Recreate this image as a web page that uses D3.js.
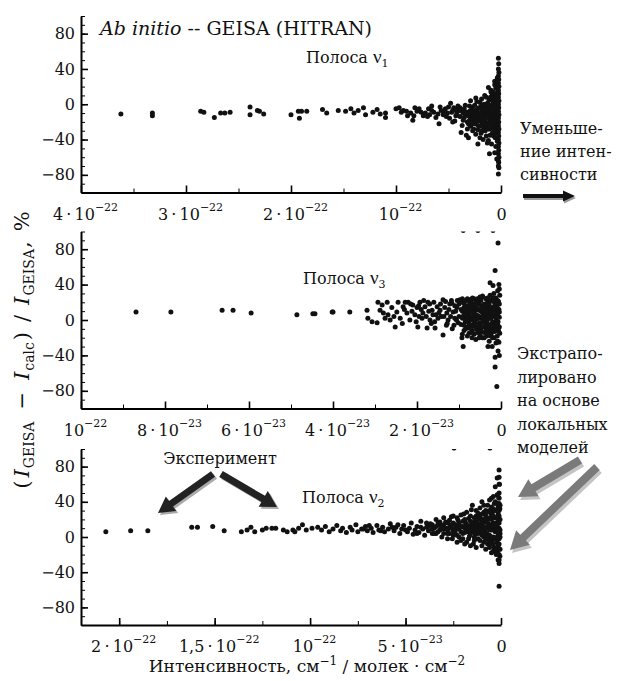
<!DOCTYPE html>
<html>
<head>
<meta charset="utf-8">
<script src="https://cdn.jsdelivr.net/npm/d3@7"></script>
<style>
  body { margin: 0; background: #fff; }
  text { font-family: "DejaVu Serif", serif; fill: #111; }
</style>
</head>
<body>
<script>
// intensity in units of 1e-23 cm^-1/(molec cm^-2), deviation in %
const band1 = [
  [36.2,-11],[33.2,-10],[33.2,-13],[28.6,-8],[28.3,-9],[27.3,-15],[26.7,-10],[26.3,-10],[25.8,-9],
  [23.9,-3],[23.9,-12],[23.2,-7],[23.0,-8],[22.6,-11],[20.0,-12],[19.3,-8],[19.2,-16],[19.0,-8],[18.5,-8],
  [17.0,-6],[16.6,-10],[15.5,-7],[14.8,-8],[14.3,-5],[14.0,-10],[13.6,-7],[13.1,-4],[12.9,-12],[12.2,-9],
  [11.8,-6],[11.5,-11],[11.0,-10],[11.0,-15],[10.0,-5],[9.7,-4],[9.5,-9],[9.3,-7],[8.9,-13],[8.4,-18],
  [8.3,-13],[7.8,-5],[7.6,-9],[7.4,-13],[6.9,-5],[6.4,-9],[6.2,-15],[5.9,-22],[5.7,-7],[5.3,-5],[5.1,-10],
  [4.8,1],[4.6,-7],[4.3,-13],[4.0,-7],[3.8,-32],[3.6,-18],[3.3,-35],[3.1,-38],[2.9,4],[2.6,-18],[2.4,7],
  [2.2,-45],[1.9,-3],[1.7,-30],[1.6,-10],[1.4,8],[1.2,-41],[1.1,-56],[0.95,16],[0.95,-15],[0.67,4],[0.48,-22],
  [3.5,-5],[3.4,-12],[3.2,-20],[3.0,-8],[2.9,-25],[2.8,-14],[2.7,-3],[2.6,-28],[2.5,-10],[2.4,-19],[2.3,-6],
  [2.2,-24],[2.1,-12],[2.0,2],[2.0,-16],[1.9,-33],[1.8,-8],[1.8,-21],[1.7,-14],[1.6,0],[1.6,-26],[1.5,-5],
  [1.5,-18],[1.4,-11],[1.4,-36],[1.3,-2],[1.3,-22],[1.2,-8],[1.2,-15],[1.1,5],[1.1,-28],[1.0,-4],[1.0,-12],
  [1.0,-19],[0.9,-1],[0.9,-9],[0.9,-24],[0.85,10],[0.8,-6],[0.8,-14],[0.8,-32],[0.75,-20],[0.7,2],[0.7,-10],
  [0.7,-17],[0.65,-27],[0.6,-4],[0.6,-13],[0.6,22],[0.55,-8],[0.55,-38],[0.5,0],[0.5,-16],[0.5,-48],
  [0.45,-11],[0.45,12],[0.4,-5],[0.4,-25],[0.4,-62],[0.35,-19],[0.35,30],[0.3,-2],[0.3,-9],
  [1.2,19],[0.95,14],[0.6,26],[0.5,18],
  [9.0,-8],[8.6,-10],[8.0,-8],[7.2,-10],[6.8,-12],[6.6,-7],[6.0,-11],[5.8,-3],[5.5,-8],
  [5.5,-12],[5.0,-3],[4.9,-16],[4.7,-9],[4.5,-4],[4.4,-19],[4.2,-10],[4.1,-2],[3.9,-14],[3.7,-8],[3.7,-24],
  [3.5,-15],[3.4,-1],[3.3,-9],[3.2,-28],[3.1,-13],[3.0,-2],[3.0,-18],[2.9,-10],[2.8,-22],[2.8,-6],[2.7,-16],
  [2.7,-30],[2.6,-8],[2.5,-1],[2.5,-22],[2.4,-13],[2.4,-34],[2.3,-17],[2.3,3],[2.2,-9],[2.2,-29],[2.1,-4],
  [2.1,-19],[2.0,-10],[2.0,-38],[1.95,-25],[1.9,-14],[1.85,6],[1.8,-2],[1.8,-30],[1.75,-17],[1.7,-6],
  [1.7,-40],[1.65,-22],[1.6,-12],[1.55,10],[1.5,-30],[1.5,-1],[1.45,-15],[1.4,-24],[1.35,-7],[1.3,-14],
  [1.3,-44],[1.25,2],[1.2,-28],[1.15,-11],[1.1,-20],[1.1,-3],[1.05,-35],[1.0,8],[1.0,-26],[0.95,-8],
  [0.9,-16],[0.9,-45],[0.85,-3],[0.85,-22],[0.8,4],[0.8,-10],[0.75,-27],[0.75,14],[0.7,-5],[0.7,-36],
  [0.65,-13],[0.65,6],[0.6,-20],[0.6,-55],[0.55,-2],[0.55,-28],[0.5,-9],[0.5,10],[0.45,-18],[0.45,-33],
  [0.4,-12],[0.4,4],[0.35,-6],[0.35,-42],[0.3,-15],[0.3,-26],[0.3,14],
  [8.2,-4],[7.0,-14],[6.6,-2],[5.2,-14],[4.6,-20],[4.3,-6],[3.9,-4],[3.6,-10],[3.1,-22],[2.6,-12],
  [0.25,52],[0.22,46],[0.25,40],[0.2,36],[0.25,32],[0.22,28],[0.25,24],[0.2,20],[0.25,16],[0.22,12],
  [0.25,8],[0.2,4],[0.25,0],[0.22,-4],[0.25,-8],[0.2,-12],[0.25,-16],[0.22,-20],[0.25,-24],[0.2,-28],
  [0.25,-32],[0.22,-36],[0.25,-40],[0.2,-44],[0.25,-48],[0.22,-52],[0.25,-56],[0.2,-60],[0.25,-64],
  [0.22,-66],[0.25,-70],[0.2,-72],[0.25,-79]
];

const band3 = [
  [8.69,9],[7.86,9],[6.64,11],[6.38,11],[5.95,8],[4.86,6],[4.48,7],[4.43,7],[4.02,9],[4.0,9],[3.6,9],
  [3.19,11],[3.17,2],[3.07,-2],[2.95,-3],[2.93,20],[2.88,11],[2.83,17],[2.76,2],[2.71,20],[2.69,6],[2.64,0],
  [2.52,-8],[2.48,9],[2.45,20],[2.40,2],[2.33,15],[2.24,8],[2.21,20],[2.17,0],[2.1,17],[2.05,6],[2.0,14],
  [1.98,-8],[1.93,20],[1.88,2],[1.86,8],[1.81,15],[1.76,-9],[1.74,20],[1.69,0],[1.64,11],[1.62,6],[1.57,-9],
  [1.52,15],[1.5,2],[1.45,11],[1.38,23],[1.38,-17],[1.29,8],[1.26,0],[1.17,19],[1.14,9],[1.1,2],[1.05,14],
  [1.02,-3],[0.98,23],[0.93,-20],[0.9,-30],[0.86,6],[0.81,15],[0.79,0],[0.74,23],[0.69,-20],[0.67,11],
  [0.62,3],[0.57,19],[0.55,-8],[0.5,-17],[0.45,9],[0.43,26],[0.38,0],[0.33,14],[0.31,-30],[0.26,42],
  [0.26,-11],[0.21,-30],[0.19,39],[0.14,-42],[0.14,-53],[0.1,-75],[0.14,56],[0.07,87],
  [0.9,101],[0.55,101],[0.19,101],
  [2.3,12],[2.15,18],[1.95,4],[1.9,12],[1.7,18],[1.66,-4],[1.55,6],[1.42,4],[1.34,14],[1.3,-6],[1.22,18],
  [1.2,4],[1.16,-10],[1.08,10],[1.0,18],[1.0,4],
  [2.8,8],[2.6,14],[2.55,4],[2.35,-4],[2.28,20],[2.12,10],[2.02,-2],[1.96,16],[1.84,22],[1.78,4],[1.72,10],
  [1.6,20],[1.58,-2],[1.48,8],[1.44,18],[1.36,4],[1.32,21],[1.28,-4],[1.24,12],[1.18,22],[1.12,-6],[1.1,16],
  [1.06,0],[1.04,22],
  [0.95,12],[0.95,-5],[0.92,20],[0.9,4],[0.88,-12],[0.85,16],[0.85,-2],[0.82,8],[0.8,-8],[0.78,22],
  [0.76,-15],[0.75,12],[0.72,3],[0.7,-6],[0.7,18],[0.68,-12],[0.65,7],[0.64,24],[0.62,-3],[0.6,14],
  [0.6,-22],[0.58,-10],[0.56,5],[0.55,20],[0.53,-4],[0.52,11],[0.5,-13],[0.5,26],[0.48,2],[0.47,16],
  [0.46,-8],[0.44,-20],[0.43,8],[0.42,-2],[0.4,18],[0.4,-14],[0.38,12],[0.37,-6],[0.36,24],[0.35,4],
  [0.34,-18],[0.33,-1],[0.32,20],[0.3,9],[0.3,-10],[0.29,15],[0.28,-24],[0.27,2],[0.26,28],[0.25,-5],
  [0.24,12],[0.23,-15],[0.22,6],[0.21,22],[0.2,-2],[0.2,-20],[0.19,14],[0.18,-9],[0.17,30],[0.16,4],
  [0.15,-13],[0.15,19],[0.14,-3],[0.13,10],[0.12,-26],[0.12,25],[0.11,0],[0.1,16],[0.1,-8],[0.09,-18],
  [0.08,7],[0.08,33],[0.07,-35],[0.07,-2],[0.06,21],[0.06,-12],[0.05,12],[0.05,-25],[0.05,40],[0.04,3],
  [0.04,-40],[0.03,28],[0.03,-15],
  [0.92,-16],[0.92,2],[0.92,10],[0.92,24],[0.88,6],[0.88,14],[0.88,-6],[0.88,19],[0.84,-10],[0.84,0],
  [0.84,22],[0.84,11],[0.8,3],[0.8,12],[0.8,-18],[0.8,24],[0.76,-4],[0.76,7],[0.76,17],[0.76,-9],
  [0.72,10],[0.72,-14],[0.72,21],[0.72,0],[0.68,4],[0.68,15],[0.68,-7],[0.68,25],[0.64,-16],[0.64,-1],
  [0.64,9],[0.64,18],[0.6,6],[0.6,-8],[0.6,21],[0.6,11],[0.56,-14],[0.56,1],[0.56,13],[0.56,24],
  [0.52,-7],[0.52,18],[0.52,4],[0.52,-20],[0.48,10],[0.48,-12],[0.48,22],[0.48,-3],[0.44,3],[0.44,14],
  [0.44,-8],[0.44,27],[0.4,-20],[0.4,6],[0.4,10],[0.4,-2],[0.36,16],[0.36,-10],[0.36,1],[0.36,8],
  [0.32,-14],[0.32,11],[0.32,25],[0.32,-5],[0.28,5],[0.28,18],[0.28,-8],[0.28,12],[0.24,-18],[0.24,2],
  [0.24,22],[0.24,9],[0.2,14],[0.2,-11],[0.2,5],[0.2,25],[0.16,-6],[0.16,11],[0.16,-20],[0.16,24],
  [0.12,4],[0.12,17],[0.12,-12],[0.12,8],[0.08,-5],[0.08,13],[0.08,22],[0.08,-24],[0.04,9],[0.04,-8],
  [0.04,18],[0.04,35]
];

const band2 = [
  [20.7,6],[19.4,7],[18.5,7],[16.2,11],[15.9,11],[15.1,12],[14.5,7],[13.6,6],[13.3,8],[13.1,11],[12.9,6],
  [12.5,8],[12.3,10],[12.0,10],[11.8,10],[11.4,8],[11.2,6],[10.9,8],[10.8,6],[10.6,10],[10.4,14],[10.2,8],
  [9.9,10],[9.6,11],
  [9.4,8],[9.2,12],[9.0,6],[8.8,9],[8.6,13],[8.4,7],[8.3,10],[8.1,5],[7.9,11],[7.8,8],[7.6,14],[7.5,6],
  [7.3,9],[7.1,12],[7.0,7],[6.8,10],[6.7,5],[6.5,13],[6.4,8],[6.2,11],[6.1,6],[5.9,9],[5.8,15],[5.6,7],
  [5.5,11],[5.3,4],[5.2,9],[5.1,13],[4.9,6],[4.8,10],[4.7,16],[4.6,3],[4.5,8],[4.4,12],[4.3,5],[4.2,18],
  [4.1,9],[4.0,2],[3.9,11],[3.8,7],[3.7,15],[3.6,4],[3.5,10],[3.4,20],[3.3,6],[3.2,13],[3.1,0],[3.0,9],
  [2.9,17],[2.8,4],[2.7,11],[2.6,23],[2.55,-2],[2.5,7],[2.4,14],[2.3,2],[2.25,19],[2.2,9],[2.1,-4],[2.0,12],
  [1.95,26],[1.9,5],[1.85,16],[1.8,-6],[1.75,9],[1.7,21],[1.65,1],[1.6,13],[1.55,31],[1.5,6],[1.45,-8],
  [1.4,17],[1.35,3],[1.3,24],[1.25,10],[1.2,-2],[1.15,15],[1.1,33],[1.05,6],[1.0,-10],[1.0,20],[0.95,12],
  [0.9,0],[0.9,28],[0.85,8],[0.8,-14],[0.8,17],[0.75,4],[0.7,36],[0.7,11],[0.65,-6],[0.6,22],[0.6,2],
  [0.55,14],[0.5,44],[0.5,-18],[0.5,8],[0.45,28],[0.45,-4],[0.4,16],[0.4,0],[0.35,38],[0.35,-12],[0.3,6],
  [0.3,22],[0.3,57],[0.25,-20],[0.25,12],[0.2,30],[0.2,-6],[0.2,67],[0.15,18],[0.15,2],[0.15,-26],
  [0.12,45],[0.1,76],[0.1,50],[0.1,38],[0.1,24],[0.1,10],[0.1,-2],[0.1,-14],[0.1,-30],[0.1,-56],
  [0.08,60],[0.06,32],[0.06,-22],[0.05,4],
  [3.8,12],[3.6,9],[3.6,14],[3.4,4],[3.4,12],[3.2,8],[3.2,17],[3.0,4],[3.0,14],[3.0,22],[2.9,10],[2.8,-2],
  [2.8,8],[2.8,16],[2.7,4],[2.7,19],[2.6,10],[2.6,14],[2.5,2],[2.5,16],[2.5,24],[2.4,6],[2.4,10],[2.3,12],
  [2.3,22],[2.3,-6],[2.2,0],[2.2,16],[2.1,6],[2.1,12],[2.1,25],[2.0,-2],[2.0,4],[2.0,18],[1.9,10],[1.9,20],
  [1.9,-8],[1.8,6],[1.8,14],[1.8,28],[1.7,-2],[1.7,8],[1.7,12],[1.6,4],[1.6,18],[1.6,24],[1.6,-10],[1.5,10],
  [1.5,14],[1.5,36],[1.4,0],[1.4,8],[1.4,22],[1.4,-4],[1.3,12],[1.3,16],[1.3,30],[1.3,-12],[1.2,4],[1.2,8],
  [1.2,20],[1.2,27],[1.1,-4],[1.1,10],[1.1,14],[1.1,24],[1.0,2],[1.0,8],[1.0,16],[1.0,26],[1.0,40],
  [0.9,-6],[0.9,6],[0.9,12],[0.9,20],[0.9,36],[0.8,-2],[0.8,4],[0.8,10],[0.8,24],[0.8,30],[0.7,-8],[0.7,0],
  [0.7,16],[0.7,20],[0.7,28],[0.6,-12],[0.6,-4],[0.6,8],[0.6,12],[0.6,30],[0.6,42],[0.5,-8],[0.5,0],
  [0.5,14],[0.5,20],[0.5,26],[0.5,34],[0.4,-16],[0.4,-8],[0.4,8],[0.4,12],[0.4,24],[0.4,32],[0.4,46],
  [0.3,-14],[0.3,-2],[0.3,10],[0.3,16],[0.3,30],[0.3,40],[0.2,-16],[0.2,0],[0.2,6],[0.2,14],[0.2,22],
  [0.2,38],[0.2,48],[0.15,-10],[0.15,10],[0.15,26],[0.15,34],[0.1,-8],[0.1,6],[0.1,16],[0.1,30],[0.1,44],
  [0.1,60],[0.1,68],[0.1,-20],[0.1,-26],[0.05,-14],[0.05,0],[0.05,8],[0.05,20],[0.05,36],
  [7.2,9],[6.9,13],[6.3,7],[5.7,11],[5.4,14],[5.0,8],[4.4,4],[4.2,11],[3.9,16],[3.5,4],[3.3,16],[3.1,10],
  [2.46,101],[0.58,101]
];

const yTicks = [80, 40, 0, -40, -80];
const ticks1 = [40, 30, 20, 10, 0];
const ticks3 = [10, 8, 6, 4, 2, 0];
const ticks2 = [20, 15, 10, 5, 0];
const tickText1 = ["4\u2009·\u200910^−22", "3\u2009·\u200910^−22", "2\u2009·\u200910^−22", "10^−22", "0"];
const tickText3 = ["10^−22", "8\u2009·\u200910^−23", "6\u2009·\u200910^−23", "4\u2009·\u200910^−23", "2\u2009·\u200910^−23", "0"];
const tickText2 = ["2\u2009·\u200910^−22", "1,5\u2009·\u200910^−22", "10^−22", "5\u2009·\u200910^−23", "0"];

const left = 81, right = 501;

const panels = [
  { data: band1, xMax: 40, ticks: ticks1, minor: 5, text: tickText1, top: 16, bottom: 192.5, sub: "1", nameX: 306, nameY: 63 },
  { data: band3, xMax: 10, ticks: ticks3, minor: 1, text: tickText3, top: 231.5, bottom: 408.5, sub: "3", nameX: 303, nameY: 284 },
  { data: band2, xMax: 22, ticks: ticks2, minor: 2.5, text: tickText2, top: 449, bottom: 625, sub: "2", nameX: 302, nameY: 503 }
];

const svg = d3.select("body")
  .append("svg")
  .attr("width", 618)
  .attr("height", 681);

panels.forEach((p, k) => {
  const x = d3.scaleLinear().domain([p.xMax, 0]).range([left, right]);
  const y = d3.scaleLinear().domain([-100, 100]).range([p.bottom, p.top]);
  const g = svg.append("g").attr("class", "panel");

  svg.append("clipPath")
    .attr("id", `clip${k}`)
    .append("rect")
    .attr("x", left - 5).attr("y", y(100))
    .attr("width", right - left + 12).attr("height", y(-100) - y(100));

  // points
  g.append("g")
    .attr("clip-path", `url(#clip${k})`)
    .selectAll("circle")
    .data(p.data)
    .join("circle")
    .attr("cx", d => x(d[0]))
    .attr("cy", d => y(d[1]))
    .attr("r", 2.5)
    .attr("fill", "#111");

  // x axis: minor then major
  const minorX = d3.range(0, p.xMax + 1e-9, p.minor);
  const xg = g.append("g").attr("transform", `translate(0,${p.bottom})`);
  xg.call(d3.axisBottom(x).tickValues(minorX).tickSize(-4).tickSizeOuter(0).tickFormat(""));
  xg.select(".domain").attr("stroke-width", 2);
  const xm = g.append("g").attr("transform", `translate(0,${p.bottom})`);
  xm.call(d3.axisBottom(x).tickValues(p.ticks).tickSize(-7).tickSizeOuter(0));
  xm.attr("font-size", 16).attr("font-family", "DejaVu Serif, serif");
  xm.select(".domain").remove();
  xm.selectAll(".tick line").attr("stroke-width", 1.6);
  xm.selectAll(".tick text").each(function (d, i) {
    const parts = p.text[i].split("^");
    const t = d3.select(this).text(null)
      .attr("y", 27).attr("dy", null)
      .attr("dx", parts[1] ? 4 : 0)
      .attr("fill", "#111");
    t.append("tspan").text(parts[0]);
    if (parts[1]) t.append("tspan").attr("dy", -9).attr("font-size", 11).text(parts[1]);
  });

  // y axis
  const yg = g.append("g").attr("transform", `translate(${left},0)`);
  yg.call(d3.axisLeft(y).tickValues(d3.range(-100, 101, 10)).tickSize(-4).tickSizeOuter(0).tickFormat(""));
  yg.select(".domain").attr("stroke-width", 2);
  const ym = g.append("g").attr("transform", `translate(${left},0)`);
  ym.call(d3.axisLeft(y).tickValues(yTicks).tickSize(-7).tickPadding(6).tickSizeOuter(0)
    .tickFormat(v => v < 0 ? "−" + Math.abs(v) : v));
  ym.attr("font-size", 16).attr("font-family", "DejaVu Serif, serif");
  ym.select(".domain").remove();
  ym.selectAll(".tick line").attr("stroke-width", 1.6);
  ym.selectAll(".tick text").attr("fill", "#111");

  // band name
  const nm = g.append("text").attr("x", p.nameX).attr("y", p.nameY).attr("font-size", 16);
  nm.append("tspan").text("Полоса ");
  nm.append("tspan").attr("font-family", "Liberation Serif, serif").attr("font-size", 19).text("ν");
  nm.append("tspan").attr("dy", 4).attr("font-size", 11).text(p.sub);
});

// title
const title = svg.append("text").attr("x", 100).attr("y", 35).attr("font-size", 19);
title.append("tspan").attr("font-style", "italic").text("Ab initio");
title.append("tspan").text(" -- GEISA (HITRAN)");

// y label: [text, kind, gap before]
const yl = svg.append("text")
  .attr("transform", "translate(29,350) rotate(-90)")
  .attr("text-anchor", "middle")
  .attr("font-size", 21);
const ylParts = [
  ["(", null, 0], ["I", "i", 3], ["GEISA", "s", 1], ["−", null, 12], ["I", "i", 12], ["calc", "s", 1],
  [")", null, 2], ["/", null, 10], ["I", "i", 10], ["GEISA", "s", 1], [",", null, 1], ["%", null, 10]
];
let shifted = false;
ylParts.forEach(([s, kind, gap]) => {
  const t = yl.append("tspan").text(s).attr("dx", gap);
  if (kind === "i") t.attr("font-style", "italic");
  if (kind === "s") { t.attr("font-size", 14).attr("dy", 5); shifted = true; }
  else if (shifted) { t.attr("dy", -5); shifted = false; }
});

// x label
const xl = svg.append("text").attr("x", 307).attr("y", 672)
  .attr("text-anchor", "middle").attr("font-size", 17);
xl.append("tspan").text("Интенсивность, см");
xl.append("tspan").attr("dy", -7).attr("font-size", 12).text("−1");
xl.append("tspan").attr("dy", 7).text(" / молек · см");
xl.append("tspan").attr("dy", -7).attr("font-size", 12).text("−2");

// side notes
const note = (lines, x0, y0, step) => lines.forEach((s, i) =>
  svg.append("text").attr("x", x0).attr("y", y0 + i * step).attr("font-size", 16).text(s));
note(["Уменьше-", "ние интен-", "сивности"], 520, 134, 23);
note(["Экстрапо-", "лировано", "на основе", "локальных", "моделей"], 517, 359, 23.5);
svg.append("text").attr("x", 220).attr("y", 464).attr("text-anchor", "middle")
  .attr("font-size", 16).text("Эксперимент");

// arrows
const arrowPath = (x1, y1, x2, y2, w, hw, hl) => {
  const len = Math.hypot(x2 - x1, y2 - y1);
  const ux = (x2 - x1) / len, uy = (y2 - y1) / len;
  const nx = -uy, ny = ux;
  const bx = x2 - ux * hl, by = y2 - uy * hl;
  const pts = [
    [x1 + nx * w / 2, y1 + ny * w / 2], [bx + nx * w / 2, by + ny * w / 2], [bx + nx * hw / 2, by + ny * hw / 2],
    [x2, y2],
    [bx - nx * hw / 2, by - ny * hw / 2], [bx - nx * w / 2, by - ny * w / 2], [x1 - nx * w / 2, y1 - ny * w / 2]
  ];
  return "M" + pts.map(q => q.join(",")).join("L") + "Z";
};
const arrow = (a, fill, shadow, dx, dy) => {
  svg.append("path").attr("d", arrowPath(...a)).attr("transform", `translate(${dx},${dy})`).attr("fill", shadow);
  svg.append("path").attr("d", arrowPath(...a)).attr("fill", fill);
};
arrow([523, 196, 575, 196, 4, 11, 12], "#111", "#999", 1, 2);
arrow([213, 474, 158, 513, 7, 18, 16], "#222", "#aaa", 2, 2);
arrow([221, 474, 277, 507, 7, 18, 16], "#222", "#aaa", 2, 2);
arrow([580, 460, 518, 497, 8, 20, 18], "#7a7a7a", "#c4c4c4", 2, 3);
arrow([597, 467, 510, 550, 8, 20, 18], "#7a7a7a", "#c4c4c4", 2, 3);
</script>
</body>
</html>
